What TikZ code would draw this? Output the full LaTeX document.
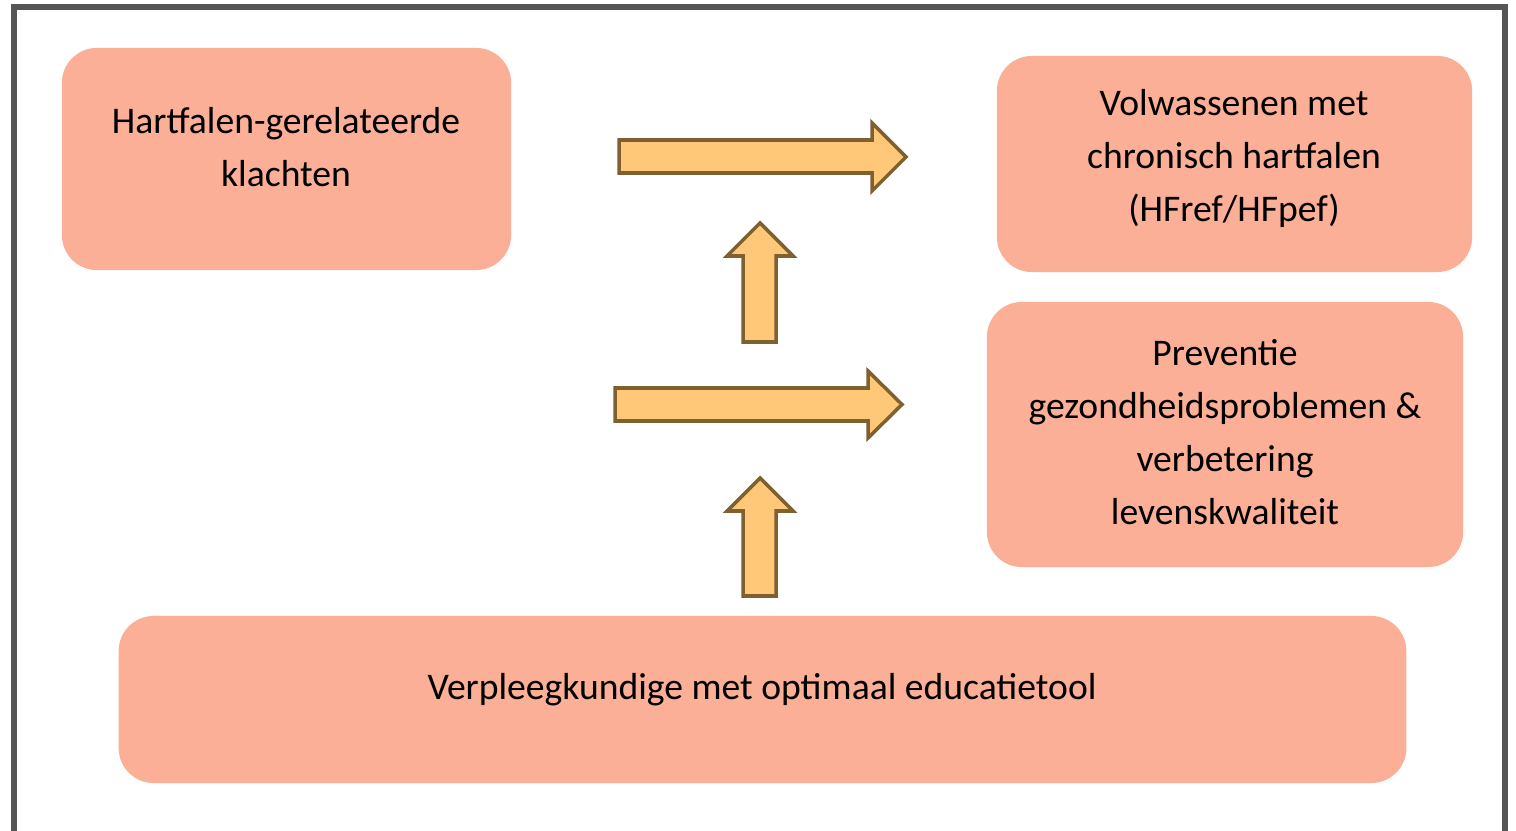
\documentclass[tikz,border=0pt]{standalone}
\usepackage{fontspec}
\setmainfont{Carlito}
\definecolor{boxfill}{HTML}{FBAF96}
\definecolor{arrfill}{HTML}{FFC878}
\definecolor{arrdraw}{HTML}{7F6030}
\definecolor{frame}{HTML}{555555}
\begin{document}
\begin{tikzpicture}[x=0.01cm,y=-0.01cm,
  box/.style={draw=none,fill=boxfill,rounded corners=0.35cm,inner sep=0pt},
  txt/.style={align=center,font=\fontsize{10.7}{15.1}\selectfont,inner sep=0pt},
  blockarrow/.style={fill=arrfill,draw=arrdraw,line width=1pt,line join=miter}]
\useasboundingbox (0,0) rectangle (1516,831);
\draw[frame,line width=1.6pt] (14,831) -- (14,7) -- (1505,7) -- (1505,831);
% boxes
\node[box,minimum width=4.49cm,minimum height=2.22cm] (b1) at (286.5,159) {};
\node[box,minimum width=4.75cm,minimum height=2.16cm] (b2) at (1234.5,164) {};
\node[box,minimum width=4.76cm,minimum height=2.65cm] (b3) at (1225,434.5) {};
\node[box,minimum width=12.87cm,minimum height=1.67cm] (b4) at (762.5,699.5) {};
% texts
\node[txt] (t1) at (286,147) {Hartfalen-gerelateerde\\klachten};
\node[txt] (t2) at (1234,158.5) {Volwassenen met\\chronisch hartfalen\\(HFref/HFpef)};
\node[txt] (t3) at (1225,432) {Preventie\\gezondheidsproblemen \&\\verbetering\\levenskwaliteit};
\node[txt] (t4) at (762,689.5) {Verpleegkundige met optimaal educatietool};
% block arrows
\draw[blockarrow] (619,140) -- (872,140) -- (872,123) -- (906,157) -- (872,191) -- (872,173) -- (619,173) -- cycle;
\draw[blockarrow] (615,388) -- (868,388) -- (868,371) -- (902,404.5) -- (868,438) -- (868,421) -- (615,421) -- cycle;
\draw[blockarrow] (743,342) -- (743,256) -- (727,256) -- (760,223) -- (793,256) -- (776,256) -- (776,342) -- cycle;
\draw[blockarrow] (743,596) -- (743,511) -- (727,511) -- (760,478) -- (793,511) -- (776,511) -- (776,596) -- cycle;
\end{tikzpicture}
\end{document}
